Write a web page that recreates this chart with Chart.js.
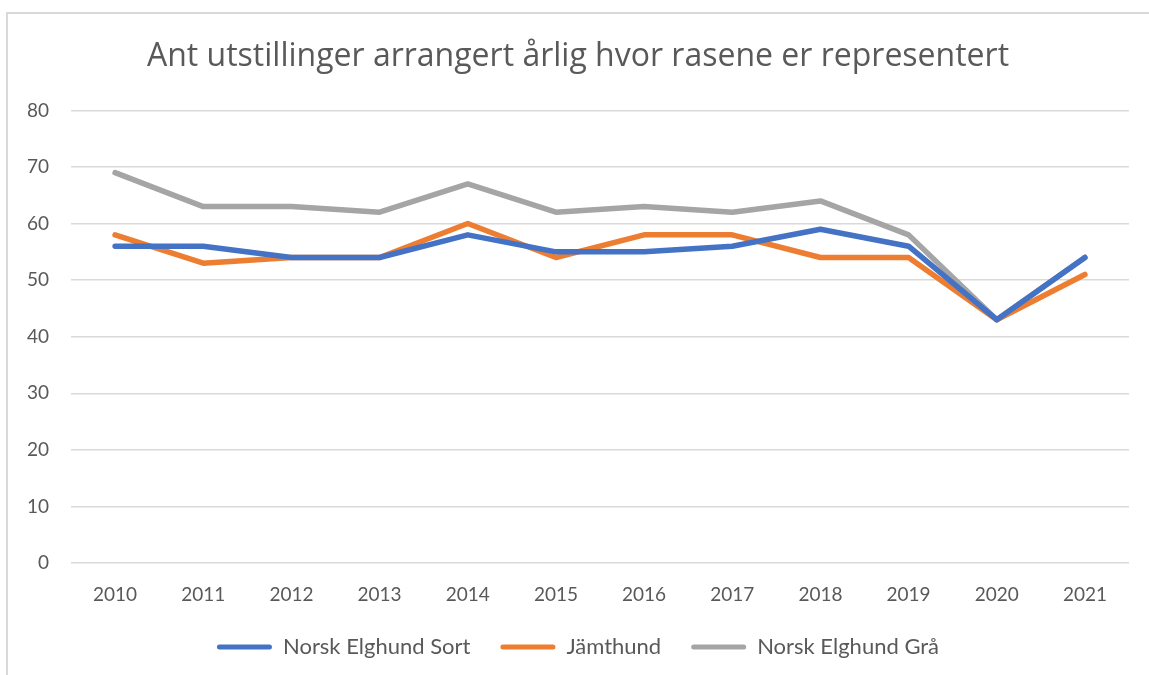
<!DOCTYPE html>
<html>
<head>
<meta charset="utf-8">
<script src="https://cdn.jsdelivr.net/npm/chart.js@4/dist/chart.umd.min.js"></script>
<style>
  body { margin: 0; background: #fff; }
  #frame {
    position: absolute; left: 6px; top: 12px; width: 1160px; height: 680px;
    border-left: 2px solid #d9d9d9; border-top: 2px solid #d9d9d9;
  }
  #wrap { position: absolute; left: 0; top: 0; width: 1149px; height: 675px; }
</style>
</head>
<body>
<div id="frame"></div>
<div id="wrap"><canvas id="myChart" width="1149" height="675"></canvas></div>
<script>
const years = ['2010', '2011', '2012', '2013', '2014', '2015', '2016', '2017', '2018', '2019', '2020', '2021'];
const elghundSort = [56, 56, 54, 54, 58, 55, 55, 56, 59, 56, 43, 54];
const jamthund = [58, 53, 54, 54, 60, 54, 58, 58, 54, 54, 43, 51];
const elghundGraa = [69, 63, 63, 62, 67, 62, 63, 62, 64, 58, 43, 54];
const seriesNames = ['Norsk Elghund Sort', 'Jämthund', 'Norsk Elghund Grå'];

const textColor = '#595959';
const fontFamily = 'Lato, "Open Sans", sans-serif';

function line(label, data, color) {
    return {
        label: label,
        data: data,
        borderColor: color,
        backgroundColor: color,
        borderWidth: 5.5,
        pointRadius: 0,
        pointHoverRadius: 0,
        borderJoinStyle: 'round',
        borderCapStyle: 'round',
        tension: 0
    };
}

const ctx = document.getElementById('myChart').getContext('2d');
new Chart(ctx, {
    type: 'line',
    data: {
        labels: years,
        datasets: [
            line(seriesNames[0], elghundSort, '#4472C4'),
            line(seriesNames[1], jamthund, '#ED7D31'),
            line(seriesNames[2], elghundGraa, '#A5A5A5')
        ]
    },
    options: {
        responsive: false,
        animation: false,
        layout: { padding: { left: 27, right: 20, top: 38, bottom: 7 } },
        plugins: {
            title: {
                display: true,
                text: 'Ant utstillinger arrangert årlig hvor rasene er representert',
                color: textColor,
                font: { family: '"Open Sans", sans-serif', size: 32, weight: 'normal' },
                padding: { top: 0, bottom: 34 }
            },
            legend: {
                position: 'bottom',
                labels: {
                    color: textColor,
                    font: { family: fontFamily, size: 22 },
                    boxWidth: 55,
                    boxHeight: 5,
                    useBorderRadius: true,
                    borderRadius: 2.5,
                    padding: 30,
                    generateLabels: chart => {
                        const items = Chart.defaults.plugins.legend.labels.generateLabels(chart);
                        items.forEach(it => { it.lineWidth = 0; });
                        return items;
                    }
                }
            },
            tooltip: { enabled: false }
        },
        scales: {
            x: {
                offset: true,
                grid: { display: false, drawTicks: false },
                border: { display: false },
                ticks: { color: textColor, font: { family: fontFamily, size: 19 }, padding: 20, maxRotation: 0 },
                afterFit: s => { s.height = 43; }
            },
            y: {
                min: 0,
                max: 80,
                ticks: { stepSize: 10, color: textColor, font: { family: fontFamily, size: 19 }, padding: 22 },
                grid: { color: '#d9d9d9', lineWidth: 1.5, drawTicks: false },
                border: { display: false },
                afterFit: s => { s.width = 44; }
            }
        }
    }
});
</script>
</body>
</html>
